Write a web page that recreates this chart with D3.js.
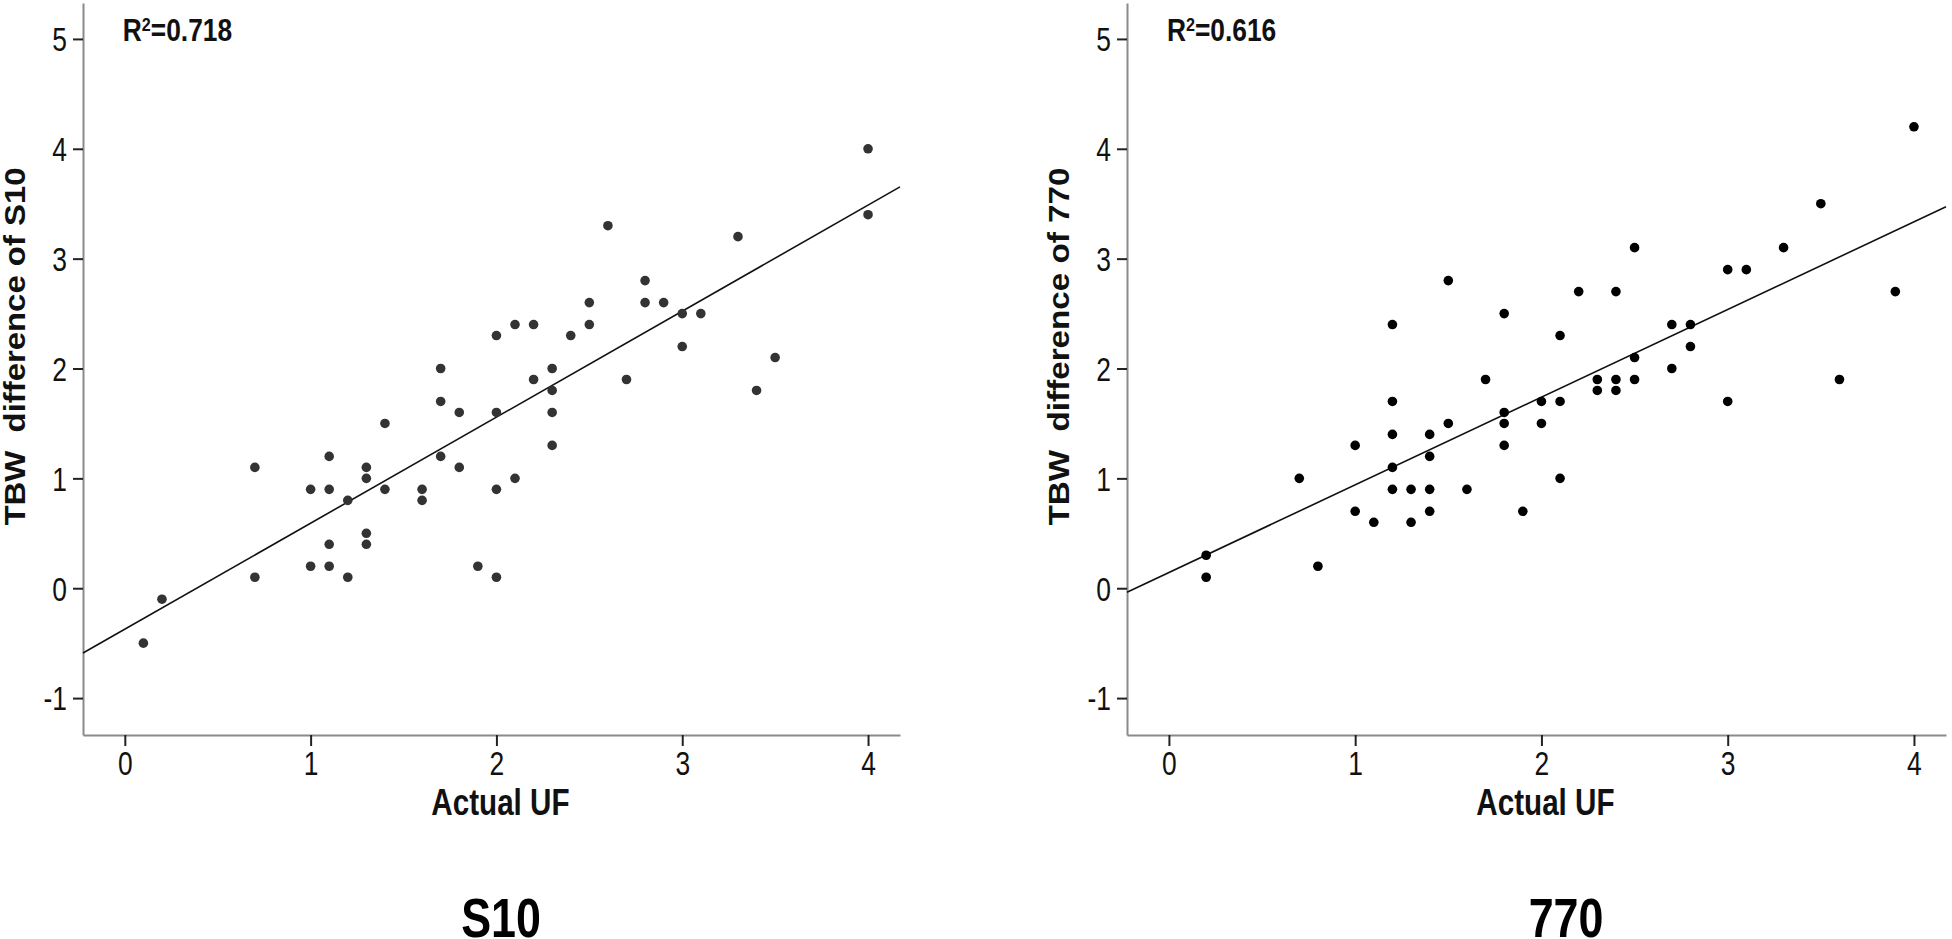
<!DOCTYPE html>
<html>
<head>
<meta charset="utf-8">
<script src="https://cdn.jsdelivr.net/npm/d3@7"></script>
<style>
  html, body { margin: 0; padding: 0; background: #fff; }
  svg { display: block; }
  text { font-family: "Liberation Sans", Arial, sans-serif; }
</style>
</head>
<body>
<svg id="chart" width="1952" height="939"></svg>
<script>
// ---------------- data ----------------
const panelNames = ["S10", "770"];
const yLabels = ["TBW  difference of S10", "TBW  difference of 770"];
const xLabel = "Actual UF";
const r2Labels = ["0.718", "0.616"];

const xTicks = [0, 1, 2, 3, 4];
const yTicks = [-1, 0, 1, 2, 3, 4, 5];

// S10: actual UF vs TBW difference
const s10X = [0.1, 0.2, 0.7, 0.7, 1.0, 1.0, 1.1, 1.1, 1.1, 1.1, 1.2, 1.2, 1.3, 1.3, 1.3, 1.3, 1.4, 1.4,
              1.6, 1.6, 1.7, 1.7, 1.7, 1.8, 1.8, 1.9, 2.0, 2.0, 2.0, 2.0, 2.1, 2.1, 2.2, 2.2, 2.3, 2.3,
              2.3, 2.3, 2.4, 2.5, 2.5, 2.6, 2.7, 2.8, 2.8, 2.9, 3.0, 3.0, 3.1, 3.3, 3.4, 3.5, 4.0, 4.0];
const s10Y = [-0.5, -0.1, 1.1, 0.1, 0.9, 0.2, 1.2, 0.9, 0.4, 0.2, 0.8, 0.1, 1.1, 1.0, 0.5, 0.4, 1.5, 0.9,
              0.9, 0.8, 2.0, 1.7, 1.2, 1.6, 1.1, 0.2, 2.3, 1.6, 0.9, 0.1, 2.4, 1.0, 2.4, 1.9, 2.0, 1.8,
              1.6, 1.3, 2.3, 2.6, 2.4, 3.3, 1.9, 2.8, 2.6, 2.6, 2.5, 2.2, 2.5, 3.2, 1.8, 2.1, 4.0, 3.4];

// 770: actual UF vs TBW difference
const m770X = [0.2, 0.2, 0.7, 0.8, 1.0, 1.0, 1.1, 1.2, 1.2, 1.2, 1.2, 1.2, 1.3, 1.3, 1.4, 1.4, 1.4, 1.4,
               1.5, 1.5, 1.6, 1.7, 1.8, 1.8, 1.8, 1.8, 1.9, 2.0, 2.0, 2.1, 2.1, 2.1, 2.2, 2.3, 2.3, 2.4,
               2.4, 2.4, 2.5, 2.5, 2.5, 2.7, 2.7, 2.8, 2.8, 3.0, 3.0, 3.1, 3.3, 3.5, 3.6, 3.9, 4.0];
const m770Y = [0.3, 0.1, 1.0, 0.2, 1.3, 0.7, 0.6, 2.4, 1.7, 1.4, 1.1, 0.9, 0.9, 0.6, 1.4, 1.2, 0.9, 0.7,
               2.8, 1.5, 0.9, 1.9, 2.5, 1.6, 1.5, 1.3, 0.7, 1.7, 1.5, 2.3, 1.7, 1.0, 2.7, 1.9, 1.8, 2.7,
               1.9, 1.8, 3.1, 2.1, 1.9, 2.4, 2.0, 2.4, 2.2, 2.9, 1.7, 2.9, 3.1, 3.5, 1.9, 2.7, 4.2];

// fitted lines (intercept, slope)
const fitIntercepts = [-0.373, 0.143];
const fitSlopes = [0.965, 0.798];

const xDomain = [-0.225, 4.172];
const yDomain = [-1.336, 5.327];

// ---------------- layout ----------------
const panels = [
  { x: s10X, y: s10Y, left: 83, right: 900, dot: "#333333", ylabX: 25, titleX: 501 },
  { x: m770X, y: m770Y, left: 1127, right: 1946, dot: "#000000", ylabX: 1069, titleX: 1566 }
];
const plotTop = 3, plotBottom = 735;
const narrow = 0.8;   // horizontal squeeze to mimic a condensed face

const svg = d3.select("#chart");

function narrowText(g, x, y, sx) {
  return g.append("text")
    .attr("transform", `translate(${x},${y}) scale(${sx},1)`);
}

panels.forEach((p, i) => {
  const x = d3.scaleLinear().domain(xDomain).range([p.left, p.right]);
  const y = d3.scaleLinear().domain(yDomain).range([plotBottom, plotTop]);
  const g = svg.append("g");

  // axes
  const fmt = d => String(d);
  const xAxis = d3.axisBottom(x).tickValues(xTicks).tickSize(11).tickSizeOuter(0).tickPadding(5).tickFormat(fmt);
  const yAxis = d3.axisLeft(y).tickValues(yTicks).tickSize(10).tickSizeOuter(0).tickPadding(6).tickFormat(fmt);

  const gx = g.append("g").attr("transform", `translate(0,${plotBottom})`).call(xAxis);
  const gy = g.append("g").attr("transform", `translate(${p.left},0)`).call(yAxis);
  [gx, gy].forEach(a => {
    a.attr("font-family", null).attr("font-size", null);
    a.select(".domain").attr("stroke", "#8a8a8a").attr("stroke-width", 2);
    a.selectAll(".tick line").attr("stroke", "#222").attr("stroke-width", 2);
    a.selectAll(".tick text")
      .attr("fill", "#111")
      .style("font-size", "33px")
      .attr("transform", `scale(${narrow},1)`)
      .attr("x", function() { return (+d3.select(this).attr("x") || 0) / narrow; });
  });
  gy.selectAll(".tick text").attr("dy", "0.36em");
  gx.selectAll(".tick text").attr("dy", "0.72em");

  // regression line
  const x0 = xDomain[0], x1 = xDomain[1];
  g.append("line")
    .attr("x1", x(x0)).attr("y1", y(fitIntercepts[i] + fitSlopes[i] * x0))
    .attr("x2", x(x1)).attr("y2", y(fitIntercepts[i] + fitSlopes[i] * x1))
    .attr("stroke", "#111").attr("stroke-width", 1.6);

  // points
  g.append("g").selectAll("circle")
    .data(d3.range(p.x.length))
    .join("circle")
    .attr("cx", k => x(p.x[k]))
    .attr("cy", k => y(p.y[k]))
    .attr("r", 4.8)
    .attr("fill", p.dot);

  // R^2 annotation
  const r2 = narrowText(g, x(0) - 2, 41, 0.85)
    .attr("font-weight", "bold")
    .style("font-size", "31px")
    .attr("fill", "#111");
  r2.append("tspan").text("R");
  r2.append("tspan").attr("dy", -10).style("font-size", "19px").text("2");
  r2.append("tspan").attr("dy", 10).text("=" + r2Labels[i]);

  // x-axis title
  narrowText(g, x(2) + 4, 815, narrow)
    .attr("text-anchor", "middle")
    .attr("font-weight", "bold")
    .style("font-size", "37px")
    .attr("fill", "#111")
    .text(xLabel);

  // y-axis title
  g.append("text")
    .attr("transform", `translate(${p.ylabX},${y(2.2)}) rotate(-90)`)
    .attr("text-anchor", "middle")
    .attr("font-weight", "bold")
    .style("font-size", "30px")
    .style("white-space", "pre")
    .attr("textLength", 358)
    .attr("lengthAdjust", "spacingAndGlyphs")
    .attr("fill", "#111")
    .text(yLabels[i]);

  // panel title
  narrowText(g, p.titleX, 937, narrow)
    .attr("text-anchor", "middle")
    .attr("font-weight", "bold")
    .style("font-size", "56px")
    .attr("fill", "#000")
    .text(panelNames[i]);
});
</script>
</body>
</html>
